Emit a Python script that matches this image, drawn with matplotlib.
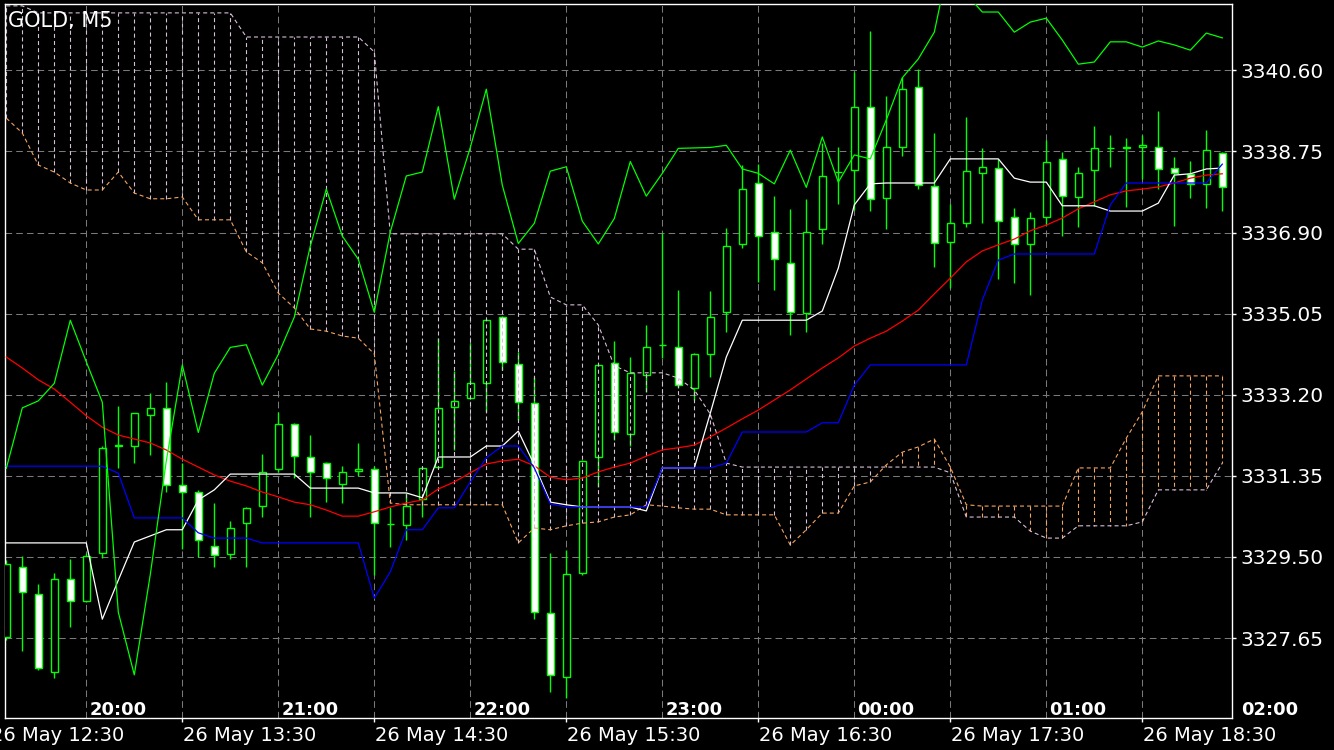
import matplotlib
matplotlib.use("Agg")
import matplotlib.pyplot as plt
from matplotlib.patches import Rectangle
from matplotlib.transforms import blended_transform_factory

plt.rcParams['lines.scale_dashes'] = False

W, H = 1334, 750

# GOLD M5 candles (bar 0 = 19:35 server time)
opens = [3327.67, 3329.28, 3328.65, 3326.87, 3328.99, 3328.49, 3329.58, 3332.04, 3332.02, 3332.74,
         3332.89, 3331.13, 3330.97, 3329.76, 3329.56, 3330.27, 3330.67, 3331.50, 3332.53, 3331.77,
         3331.64, 3331.16, 3331.46, 3331.51, 3330.25, 3330.23, 3330.82, 3331.56, 3332.93, 3333.12,
         3333.46, 3334.98, 3333.90, 3333.02, 3328.21, 3326.75, 3329.13, 3331.79, 3333.92, 3332.30,
         3333.65, 3334.33, 3334.28, 3333.35, 3334.12, 3335.08, 3336.63, 3338.04, 3336.92, 3336.20,
         3335.06, 3336.97, 3338.27, 3338.33, 3339.77, 3337.68, 3338.84, 3340.23, 3337.97, 3336.69,
         3337.12, 3338.25, 3338.37, 3337.25, 3336.63, 3337.25, 3338.57, 3337.70, 3338.33, 3338.82,
         3338.82, 3338.84, 3338.86, 3338.37, 3338.24, 3338.00, 3338.71]
highs = [3329.43, 3329.51, 3328.88, 3329.13, 3329.45, 3329.59, 3332.02, 3332.95, 3332.78, 3333.23,
         3333.50, 3331.64, 3331.03, 3330.74, 3330.33, 3330.64, 3331.85, 3332.81, 3332.56, 3332.28,
         3331.67, 3331.58, 3332.11, 3331.58, 3330.63, 3330.95, 3331.56, 3334.49, 3333.75, 3334.39,
         3334.93, 3335.00, 3334.18, 3333.61, 3329.58, 3329.66, 3331.71, 3333.90, 3334.43, 3334.07,
         3334.79, 3336.88, 3335.59, 3334.15, 3335.57, 3337.00, 3338.44, 3338.46, 3337.73, 3337.44,
         3337.66, 3338.95, 3338.84, 3340.57, 3341.50, 3340.01, 3340.44, 3340.62, 3339.18, 3337.55,
         3339.53, 3338.82, 3338.58, 3337.45, 3337.36, 3339.00, 3338.74, 3338.39, 3339.33, 3339.12,
         3339.05, 3339.12, 3339.67, 3338.62, 3338.53, 3339.24, 3338.74]
lows = [3327.61, 3327.36, 3326.92, 3326.73, 3327.91, 3328.47, 3329.48, 3331.54, 3331.65, 3331.83,
        3330.97, 3329.67, 3329.49, 3329.26, 3329.45, 3329.26, 3330.40, 3331.44, 3331.29, 3330.42,
        3330.76, 3330.74, 3331.35, 3329.09, 3329.73, 3329.89, 3330.42, 3331.53, 3331.94, 3333.10,
        3332.81, 3333.76, 3332.62, 3328.08, 3326.43, 3326.28, 3329.09, 3331.10, 3332.17, 3332.02,
        3333.27, 3334.03, 3333.35, 3333.08, 3333.60, 3334.64, 3336.54, 3335.78, 3335.59, 3334.56,
        3334.62, 3336.63, 3337.55, 3337.41, 3337.38, 3336.99, 3338.64, 3337.90, 3336.12, 3335.64,
        3337.03, 3337.11, 3335.84, 3335.74, 3335.48, 3337.07, 3336.81, 3337.03, 3337.51, 3338.40,
        3337.48, 3338.11, 3337.89, 3337.06, 3337.69, 3337.45, 3337.39]
closes = [3329.35, 3328.69, 3326.96, 3328.99, 3328.49, 3329.53, 3331.98, 3332.05, 3332.78, 3332.89,
          3331.13, 3330.97, 3329.89, 3329.54, 3330.15, 3330.62, 3331.44, 3332.53, 3331.80, 3331.44,
          3331.29, 3331.43, 3331.51, 3330.27, 3330.24, 3330.66, 3331.52, 3332.90, 3333.06, 3333.46,
          3334.90, 3333.95, 3333.03, 3328.24, 3326.81, 3329.10, 3331.69, 3333.88, 3332.34, 3333.69,
          3334.28, 3334.34, 3333.42, 3334.12, 3334.97, 3336.59, 3337.89, 3336.82, 3336.29, 3335.08,
          3336.91, 3338.19, 3338.28, 3339.77, 3337.66, 3338.84, 3340.17, 3337.98, 3336.65, 3337.11,
          3338.30, 3338.40, 3337.16, 3336.64, 3337.22, 3338.52, 3337.73, 3338.25, 3338.82, 3338.83,
          3338.84, 3338.89, 3338.35, 3338.25, 3338.01, 3338.78, 3337.93]

# red moving average
ma_red = [3334.06, 3333.81, 3333.54, 3333.33, 3333.03, 3332.72, 3332.46, 3332.28, 3332.19, 3332.10,
          3331.94, 3331.73, 3331.55, 3331.37, 3331.23, 3331.12, 3330.98, 3330.87, 3330.75, 3330.69,
          3330.57, 3330.43, 3330.43, 3330.53, 3330.64, 3330.73, 3330.80, 3331.05, 3331.21, 3331.42,
          3331.62, 3331.69, 3331.73, 3331.58, 3331.32, 3331.26, 3331.30, 3331.44, 3331.55, 3331.64,
          3331.80, 3331.94, 3331.99, 3332.05, 3332.24, 3332.44, 3332.65, 3332.85, 3333.08, 3333.31,
          3333.56, 3333.81, 3334.04, 3334.31, 3334.49, 3334.65, 3334.88, 3335.13, 3335.50, 3335.86,
          3336.23, 3336.48, 3336.62, 3336.75, 3336.94, 3337.07, 3337.23, 3337.44, 3337.60, 3337.76,
          3337.85, 3337.89, 3337.94, 3338.03, 3338.14, 3338.21, 3338.24]

# ichimoku
tenkan = ([3329.82] * 6 + [3328.08, 3328.97, 3329.84, 3329.98, 3330.12, 3330.12, 3330.80, 3331.03]
          + [3331.39] * 5 + [3331.07] * 4 + [3330.96] * 3 + [3330.85] + [3331.78] * 3
          + [3332.03] * 2 + [3332.37, 3331.60, 3330.75, 3330.69] + [3330.64] * 4 + [3330.55]
          + [3331.53] * 3 + [3332.78, 3334.06] + [3334.90] * 5 + [3335.11, 3336.09, 3337.53, 3338.01]
          + [3338.03] * 4 + [3338.58] * 4 + [3338.14, 3338.05, 3338.05] + [3337.51] * 3
          + [3337.39] * 3 + [3337.57, 3338.21, 3338.24, 3338.35, 3338.37])
kijun = ([3331.57] * 7 + [3331.41] + [3330.39] * 4 + [3330.05] + [3329.93] * 3 + [3329.82] * 7
         + [3328.56, 3329.16, 3330.12, 3330.12, 3330.62, 3330.62, 3331.21, 3331.76, 3332.03, 3332.03,
            3331.53, 3330.71] + [3330.64] * 6 + [3331.53] * 4 + [3331.64] + [3332.35] * 5
         + [3332.56] * 2 + [3333.42] + [3333.88] * 7 + [3335.36, 3336.27] + [3336.41] * 6
         + [3337.53] + [3338.03] * 6 + [3338.46])
span_a = ([3339.51, 3339.17, 3338.44, 3338.28, 3338.03, 3337.87, 3337.87, 3338.28, 3337.80, 3337.67,
           3337.67, 3337.71, 3337.19, 3337.19, 3337.19, 3336.46, 3336.21, 3335.52, 3335.18, 3334.70,
           3334.65, 3334.54, 3334.49, 3334.13, 3330.73] + [3330.69] * 7
          + [3329.82, 3330.16, 3330.12, 3330.21, 3330.27, 3330.30, 3330.41, 3330.46, 3330.69, 3330.66,
             3330.62, 3330.59, 3330.59] + [3330.46] * 4
          + [3329.77, 3330.12, 3330.50, 3330.50, 3331.12, 3331.21, 3331.60, 3331.89, 3332.01, 3332.19,
             3331.55, 3330.69] + [3330.66] * 6 + [3331.53] * 3 + [3332.21, 3332.81] + [3333.63] * 5)
span_b = ([3342.07] * 2 + [3341.91] * 13 + [3341.36] * 8 + [3341.02] + [3336.87] * 8
          + [3336.52] * 2 + [3335.43, 3335.25, 3335.25, 3334.79, 3333.86] + [3333.70] * 3
          + [3333.58, 3333.31, 3332.76, 3331.64] + [3331.55] * 13 + [3331.42] + [3330.41] * 4
          + [3330.09, 3329.93, 3329.93] + [3330.21] * 4 + [3330.30] + [3331.03] * 4 + [3331.64])
# closes of the 26 bars after the right edge (feed the lagging span)
future_closes = [3339.08, 3338.05, 3338.67, 3338.58, 3339.47, 3340.43, 3340.86, 3341.47, 3343.21,
                 3342.34, 3341.93, 3341.93, 3341.47, 3341.70, 3341.79, 3341.29, 3340.74, 3340.79,
                 3341.25, 3341.25, 3341.13, 3341.27, 3341.18, 3341.06, 3341.45, 3341.34]

price_ticks = [3327.65, 3329.50, 3331.35, 3333.20, 3335.05, 3336.90, 3338.75, 3340.60]
grid_bars = [5, 11, 17, 23, 29, 35, 41, 47, 53, 59, 65, 71]
hour_bars = [5, 17, 29, 41, 53, 65, 77]
hour_labels = ["20:00", "21:00", "22:00", "23:00", "00:00", "01:00", "02:00"]
date_bars = [-1, 11, 23, 35, 47, 59, 71]
date_labels = ["26 May 12:30", "26 May 13:30", "26 May 14:30", "26 May 15:30",
               "26 May 16:30", "26 May 17:30", "26 May 18:30"]

n = len(closes)
bars = list(range(n))
chikou = closes[26:] + future_closes

fig = plt.figure(figsize=(W / 100, H / 100), dpi=100, facecolor='black')
ax = fig.add_axes([4.5 / W, (H - 718) / H, (1232 - 4.5) / W, (718 - 4.3) / H])
ax.set_facecolor('black')
ax.set_xlim(-0.1125, 76.606)
ax.set_ylim(3325.826, 3342.106)

grid_dash = (0, (4.8, 2.9))
for p in price_ticks:
    ax.axhline(p, color='#7a7a7a', lw=0.75, ls=grid_dash, zorder=1)
for b in grid_bars:
    ax.axvline(b, color='#7a7a7a', lw=0.75, ls=grid_dash, zorder=1)

# candles
ax.vlines(bars, lows, highs, colors='#00ff00', lw=1.0, zorder=2)
bw = 0.44
for i in bars:
    o, c = opens[i], closes[i]
    fill = 'black' if c >= o else 'white'
    lo = min(o, c)
    hgt = max(abs(c - o), 0.004)
    ax.add_patch(Rectangle((i - bw / 2, lo), bw, hgt, facecolor=fill,
                           edgecolor='#00ff00', lw=1.0, zorder=3))

# cloud hatching, one dashed stroke per bar
hatch_cols = ['#f4a460' if a > b else '#d8bfd8' for a, b in zip(span_a, span_b)]
ax.vlines(bars, span_a, span_b, colors=hatch_cols, lw=0.8,
          linestyles=(0, (2.9, 2.2)), zorder=4)
ax.plot(bars, span_a, color='#f4a460', lw=0.8, ls=(0, (2.9, 2.2)), zorder=4)
ax.plot(bars, span_b, color='#d8bfd8', lw=0.8, ls=(0, (2.9, 2.2)), zorder=4)

ax.plot(bars, ma_red, color='#ff0000', lw=0.9, zorder=5)
ax.plot(bars, tenkan, color='white', lw=0.9, zorder=5)
ax.plot(bars, kijun, color='#0000ff', lw=0.9, zorder=6)
ax.plot(bars, chikou, color='#00ff00', lw=0.9, zorder=6)

for s in ax.spines.values():
    s.set_color('white')
    s.set_linewidth(1)

ax.yaxis.tick_right()
ax.set_yticks(price_ticks)
ax.set_yticklabels([f"{p:.2f}" for p in price_ticks])
ax.tick_params(axis='y', colors='white', length=3, width=1, labelsize=14.5, pad=3)
ax.set_xticks([b for b in date_bars if b >= 0])
ax.set_xticklabels([])
ax.tick_params(axis='x', colors='white', length=3, width=1)

tr = blended_transform_factory(ax.transData, fig.transFigure)
for b, lab in zip(hour_bars, hour_labels):
    ax.text(b + 3 / 16, 1 - 715 / H, lab, transform=tr, color='white', fontsize=13,
            fontweight='bold', ha='left', va='baseline', clip_on=False)
for b, lab in zip(date_bars, date_labels):
    ax.text(b + 1 / 16, 1 - 741 / H, lab, transform=tr, color='white', fontsize=14,
            ha='left', va='baseline', clip_on=False)

fig.text(8 / W, 1 - 21 / H, "GOLD, M5", color='white', fontsize=15, va='center', ha='left')

fig.savefig("out.png", dpi=100, facecolor='black')
